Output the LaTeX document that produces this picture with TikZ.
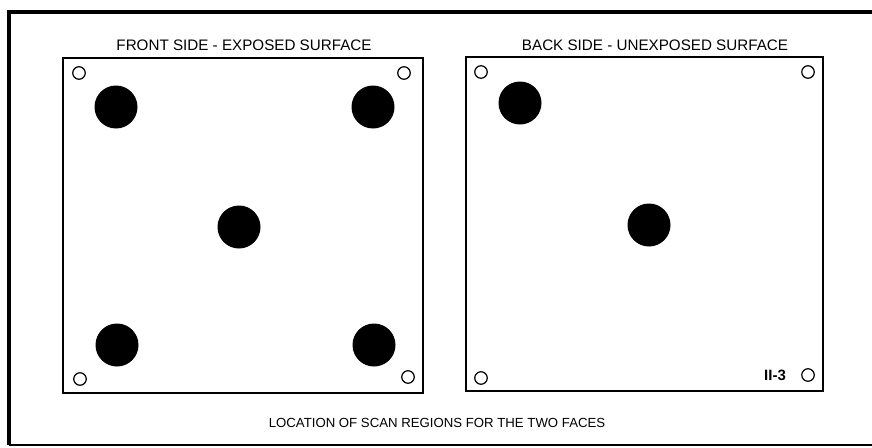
\documentclass[tikz,border=0pt]{standalone}
\usepackage{fontspec}
\setmainfont{Liberation Sans}
\begin{document}
\begin{tikzpicture}[x=1pt,y=-1pt,
  panel/.style={draw=black,line width=1.4pt},
  hole/.style={circle,draw=black,line width=1.2pt,minimum size=12.5pt,inner sep=0pt},
  spot/.style={circle,fill=black,minimum size=43pt,inner sep=0pt},
  title/.style={font=\fontsize{15.2}{17}\selectfont,inner sep=0pt}]
\useasboundingbox (0,0) rectangle (872,447);
% outer frame
\draw[line width=3.5pt] (9,445) -- (9,12) -- (875,12);
\draw[line width=1.5pt] (9,445) -- (875,445);
% titles and panels
\node[title] (t1) at (244,45) {FRONT SIDE - EXPOSED SURFACE};
\node[title] (t2) at (655,45) {BACK SIDE - UNEXPOSED SURFACE};
\draw[panel] (63,58) rectangle (423,393);
\draw[panel] (466,57) rectangle (823,391);
% left panel holes
\node[hole] (h1) at (79,73) {};
\node[hole] (h2) at (404,73) {};
\node[hole] (h3) at (80,379) {};
\node[hole] (h4) at (408,377) {};
% left panel spots
\node[spot] (s1) at (116,107) {};
\node[spot] (s2) at (373,107) {};
\node[spot] (s3) at (239,227) {};
\node[spot] (s4) at (117,345) {};
\node[spot] (s5) at (374,345) {};
% right panel holes
\node[hole] (h5) at (481,72) {};
\node[hole] (h6) at (808,72) {};
\node[hole] (h7) at (481,378) {};
\node[hole] (h8) at (808,375) {};
% right panel spots
\node[spot] (s6) at (520,103) {};
\node[spot] (s7) at (649,225) {};
\node[inner sep=0pt,font=\fontsize{15}{17}\selectfont\bfseries] (lab) at (775,375) {II-3};
\node[inner sep=0pt,font=\fontsize{13.2}{15}\selectfont] (cap) at (437,423) {LOCATION OF SCAN REGIONS FOR THE TWO FACES};
\end{tikzpicture}
\end{document}
